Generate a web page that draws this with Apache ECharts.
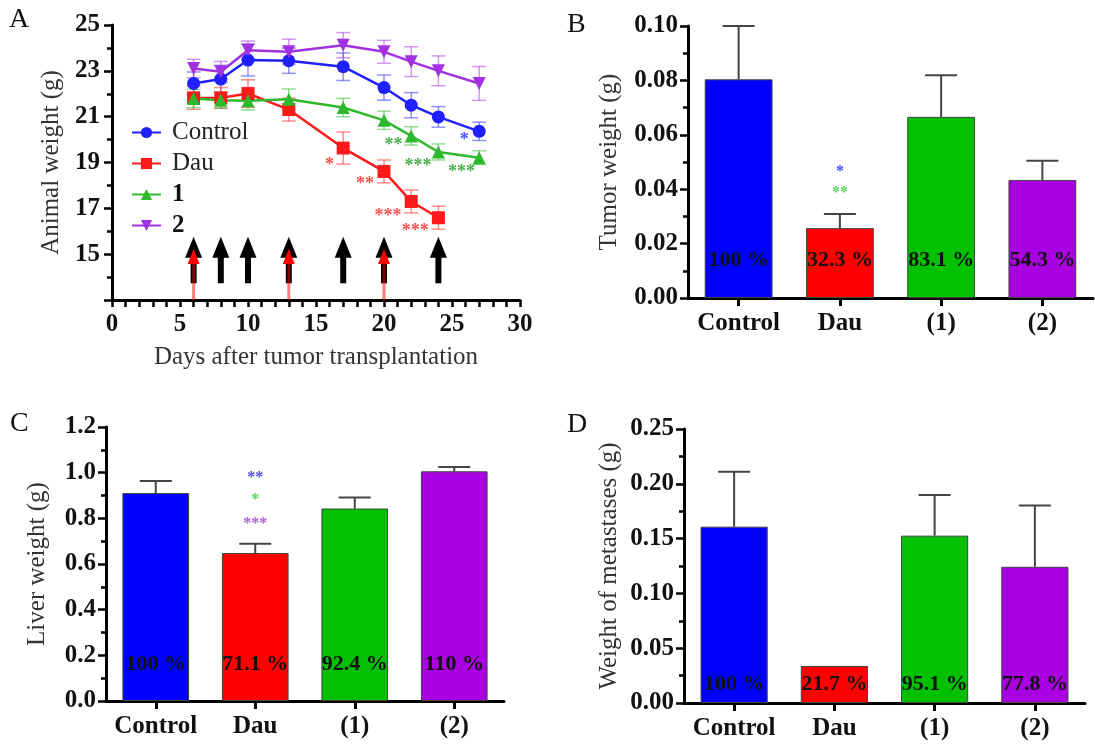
<!DOCTYPE html>
<html>
<head>
<meta charset="utf-8">
<script src="https://cdn.jsdelivr.net/npm/echarts@6/dist/echarts.min.js"></script>
<style>
html, body { margin: 0; padding: 0; background: #fff; }
#chart { width: 1095px; height: 745px; }
</style>
</head>
<body>
<div id="chart"></div>
<script>
// panel A: body weight over time
const days = [6, 8, 10, 13, 17, 20, 22, 24, 27]
const dauDays = [6, 8, 10, 13, 17, 20, 22, 24]
const controlW = [22.45, 22.64, 23.47, 23.44, 23.18, 22.27, 21.5, 20.99, 20.36]
const controlE = [0.5, 0.6, 0.7, 0.55, 0.6, 0.55, 0.55, 0.45, 0.4]
const dauW = [21.82, 21.82, 22.01, 21.31, 19.63, 18.61, 17.3, 16.59]
const dauE = [0.5, 0.45, 0.6, 0.5, 0.7, 0.5, 0.5, 0.5]
const c1W = [21.79, 21.72, 21.69, 21.76, 21.4, 20.84, 20.16, 19.46, 19.21]
const c1E = [0.4, 0.35, 0.4, 0.45, 0.4, 0.4, 0.4, 0.35, 0.3]
const c2W = [23.1, 22.96, 23.9, 23.83, 24.12, 23.83, 23.4, 23.0, 22.45]
const c2E = [0.4, 0.45, 0.4, 0.55, 0.55, 0.5, 0.65, 0.65, 0.74]
const blackArrowDays = [6, 8, 10, 13, 17, 20, 24]
const redArrowDays = [6, 13, 20]
// [day, weight, text, color]
const starsA = [
  [16.0, 18.88, '*', '#ff2020'],
  [18.6, 18.04, '**', '#ff2020'],
  [20.3, 16.64, '***', '#ff2020'],
  [22.3, 15.99, '***', '#ff2020'],
  [20.7, 19.75, '**', '#1a9a1a'],
  [22.5, 18.83, '***', '#1a9a1a'],
  [25.7, 18.57, '***', '#1a9a1a'],
  [25.9, 19.97, '*', '#2020ff']
]

// panels B-D
const groups = ['Control', 'Dau', '(1)', '(2)']
const barColors = ['#0000ff', '#ff0000', '#00c000', '#a800e0']
const tumorW = [0.0804, 0.0257, 0.0666, 0.0434]
const tumorE = [0.0196, 0.0052, 0.0153, 0.0071]
const tumorPct = ['100 %', '32.3 %', '83.1 %', '54.3 %']
const liverW = [0.911, 0.648, 0.843, 1.006]
const liverE = [0.053, 0.041, 0.048, 0.019]
const liverPct = ['100 %', '71.1 %', '92.4 %', '110 %']
const metaW = [0.1609, 0.0338, 0.1527, 0.1243]
const metaE = [0.050, 0, 0.037, 0.056]
const metaPct = ['100 %', '21.7 %', '95.1 %', '77.8 %']
// [group index, value, text, color]
const starsB = [[1, 0.0463, '*', '#2020ff'], [1, 0.0386, '**', '#33cc33']]
const starsC = [[1, 0.977, '**', '#2020ff'], [1, 0.882, '*', '#33cc33'], [1, 0.777, '***', '#9933cc']]

const serif = 'Liberation Serif'
const chart = echarts.init(document.getElementById('chart'))

function pairs(xs, ys) { return xs.map((x, i) => [x, ys[i]]) }
function errData(xs, ys, es) { return xs.map((x, i) => [x, ys[i] - es[i], ys[i] + es[i]]) }

function errSeriesA(xs, ys, es, color) {
  return {
    type: 'custom', xAxisIndex: 0, yAxisIndex: 0, z: 1, silent: true,
    data: errData(xs, ys, es),
    encode: { x: 0, y: [1, 2] },
    renderItem: (params, api) => {
      const lo = api.coord([api.value(0), api.value(1)])
      const hi = api.coord([api.value(0), api.value(2)])
      const st = { stroke: color, lineWidth: 1.5 }
      return { type: 'group', children: [
        { type: 'line', shape: { x1: lo[0], y1: lo[1], x2: hi[0], y2: hi[1] }, style: st },
        { type: 'line', shape: { x1: lo[0] - 7, y1: lo[1], x2: lo[0] + 7, y2: lo[1] }, style: st },
        { type: 'line', shape: { x1: hi[0] - 7, y1: hi[1], x2: hi[0] + 7, y2: hi[1] }, style: st }
      ] }
    }
  }
}

function lineSeries(name, xs, ys, color, symbol) {
  return {
    name, type: 'line', xAxisIndex: 0, yAxisIndex: 0, z: 3,
    data: pairs(xs, ys), symbol, symbolSize: 13,
    lineStyle: { color, width: 2.5 }, itemStyle: { color }
  }
}

function arrowSeries(list, black) {
  return {
    type: 'custom', xAxisIndex: 0, yAxisIndex: 0, z: black ? 4 : 5, silent: true,
    data: list.map(d => [d]),
    renderItem: (params, api) => {
      const d = api.value(0)
      if (black) {
        const base = api.coord([d, 13.73]), tip = api.coord([d, 15.76])
        return { type: 'group', children: [
          { type: 'rect', shape: { x: base[0] - 3, y: tip[1] + 19, width: 6, height: base[1] - tip[1] - 19 }, style: { fill: '#000' } },
          { type: 'polygon', shape: { points: [[tip[0], tip[1]], [tip[0] - 8.5, tip[1] + 21], [tip[0] + 8.5, tip[1] + 21]] }, style: { fill: '#000' } }
        ] }
      }
      const base = api.coord([d, 13]), tip = api.coord([d, 15.23])
      return { type: 'group', children: [
        { type: 'rect', shape: { x: base[0] - 1.5, y: tip[1] + 13, width: 3, height: base[1] - tip[1] - 13 }, style: { fill: 'rgba(255,0,0,0.5)' } },
        { type: 'polygon', shape: { points: [[tip[0], tip[1]], [tip[0] - 6, tip[1] + 15], [tip[0] + 6, tip[1] + 15]] }, style: { fill: '#ff0000' } }
      ] }
    }
  }
}

function starSeries(list, axis, size) {
  return {
    type: 'scatter', xAxisIndex: axis, yAxisIndex: axis, symbolSize: 0, z: 6, silent: true,
    data: list.map(s => ({
      value: [s[0], s[1]],
      label: { show: true, position: 'inside', formatter: s[2], color: s[3], fontSize: size, fontFamily: serif, fontWeight: 'bold' }
    }))
  }
}

function barSeries(axis, vals, pct, dist) {
  return {
    type: 'bar', xAxisIndex: axis, yAxisIndex: axis, barWidth: '67%', z: 3,
    data: vals.map((v, i) => ({ value: v, itemStyle: { color: barColors[i], borderColor: '#444', borderWidth: 1 } })),
    label: {
      show: true, position: 'insideBottom', distance: dist,
      formatter: p => pct[p.dataIndex],
      fontFamily: serif, fontWeight: 'bold', fontSize: 22, color: '#111'
    }
  }
}

function barErrSeries(axis, vals, errs) {
  return {
    type: 'custom', xAxisIndex: axis, yAxisIndex: axis, z: 2, silent: true,
    data: vals.map((v, i) => [i, v, v + errs[i]]),
    encode: { x: 0, y: [1, 2] },
    renderItem: (params, api) => {
      if (api.value(2) <= api.value(1)) return
      const lo = api.coord([api.value(0), api.value(1)])
      const hi = api.coord([api.value(0), api.value(2)])
      const st = { stroke: '#444', lineWidth: 2 }
      return { type: 'group', children: [
        { type: 'line', shape: { x1: lo[0], y1: lo[1], x2: hi[0], y2: hi[1] }, style: st },
        { type: 'line', shape: { x1: hi[0] - 16, y1: hi[1], x2: hi[0] + 16, y2: hi[1] }, style: st }
      ] }
    }
  }
}

const axisLine = { show: true, lineStyle: { color: '#000', width: 3 } }
const tickLabel = { fontFamily: serif, fontWeight: 'bold', fontSize: 25, color: '#111' }
const nameStyle = { fontFamily: serif, fontSize: 25, color: '#333' }

function catAxis(i) {
  return {
    type: 'category', gridIndex: i, data: groups,
    axisLine, axisTick: { show: true, alignWithLabel: true, length: 8, lineStyle: { width: 3, color: '#000' } },
    axisLabel: Object.assign({ margin: 13, interval: 0 }, tickLabel)
  }
}

function valAxis(i, min, max, step, digits, name, gap) {
  return {
    type: 'value', gridIndex: i, min, max, interval: step,
    axisLine, splitLine: { show: false },
    axisTick: { show: true, length: 8, lineStyle: { width: 2.5, color: '#000' } },
    minorTick: { show: true, splitNumber: 2, length: 5, lineStyle: { width: 2.5, color: '#000' } },
    axisLabel: Object.assign({ margin: 10, formatter: v => v.toFixed(digits) }, tickLabel),
    name, nameLocation: 'middle', nameGap: gap, nameTextStyle: nameStyle
  }
}

const option = {
  animation: false,
  backgroundColor: '#fff',
  grid: [
    { left: 112, top: 25, width: 408, height: 275 },
    { left: 688, top: 26, width: 405, height: 272 },
    { left: 106, top: 427, width: 398, height: 274 },
    { left: 684, top: 429, width: 401, height: 274 }
  ],
  legend: {
    data: ['Control', 'Dau', '1', '2'],
    orient: 'vertical', left: 126, top: 115,
    itemWidth: 29, itemHeight: 14, itemGap: 6,
    textStyle: { fontFamily: serif, fontSize: 25, color: '#222', lineHeight: 25, padding: [0, 0, 0, 6],
      rich: { b: { fontFamily: serif, fontSize: 25, fontWeight: 'bold', color: '#111' } } },
    formatter: n => (n === '1' || n === '2') ? '{b|' + n + '}' : n
  },
  xAxis: [
    {
      type: 'value', gridIndex: 0, min: 0, max: 30, interval: 5,
      axisLine, splitLine: { show: false },
      axisTick: { show: true, length: 7, lineStyle: { width: 2.5, color: '#000' } },
      minorTick: { show: true, splitNumber: 5, length: 7, lineStyle: { width: 2.5, color: '#000' } },
      axisLabel: Object.assign({ margin: 12 }, tickLabel),
      name: 'Days after tumor transplantation', nameLocation: 'middle', nameGap: 45, nameTextStyle: nameStyle
    },
    catAxis(1), catAxis(2), catAxis(3)
  ],
  yAxis: [
    {
      type: 'value', gridIndex: 0, min: 13, max: 25, interval: 2,
      axisLine, splitLine: { show: false },
      axisTick: { show: true, length: 8, lineStyle: { width: 2.5, color: '#000' } },
      minorTick: { show: true, splitNumber: 2, length: 5, lineStyle: { width: 2.5, color: '#000' } },
      axisLabel: Object.assign({ margin: 12, formatter: v => v === 13 ? '' : v }, tickLabel),
      name: 'Animal weight (g)', nameLocation: 'middle', nameGap: 48, nameTextStyle: nameStyle
    },
    valAxis(1, 0, 0.1, 0.02, 2, 'Tumor weight (g)', 66),
    valAxis(2, 0, 1.2, 0.2, 1, 'Liver weight (g)', 56),
    valAxis(3, 0, 0.25, 0.05, 2, 'Weight of metastases (g)', 62)
  ],
  graphic: [
    { type: 'text', left: 9, top: 6, style: { text: 'A', font: '28px "Liberation Serif"', fill: '#111' } },
    { type: 'text', left: 567, top: 11, style: { text: 'B', font: '28px "Liberation Serif"', fill: '#111' } },
    { type: 'text', left: 10, top: 410, style: { text: 'C', font: '28px "Liberation Serif"', fill: '#111' } },
    { type: 'text', left: 567, top: 411, style: { text: 'D', font: '28px "Liberation Serif"', fill: '#111' } }
  ],
  series: [
    arrowSeries(blackArrowDays, true),
    arrowSeries(redArrowDays, false),
    errSeriesA(days, controlW, controlE, 'rgba(40,40,255,0.5)'),
    errSeriesA(dauDays, dauW, dauE, 'rgba(255,30,30,0.5)'),
    errSeriesA(days, c1W, c1E, 'rgba(40,190,40,0.5)'),
    errSeriesA(days, c2W, c2E, 'rgba(170,50,230,0.5)'),
    lineSeries('Control', days, controlW, '#1f1fff', 'circle'),
    lineSeries('Dau', dauDays, dauW, '#ff1a1a', 'rect'),
    lineSeries('1', days, c1W, '#2db82d', 'triangle'),
    lineSeries('2', days, c2W, '#a030e0', 'path://M0,0 L10,0 L5,9 Z'),
    starSeries(starsA, 0, 18),
    barErrSeries(1, tumorW, tumorE),
    barSeries(1, tumorW, tumorPct, 27),
    starSeries(starsB, 1, 16),
    barErrSeries(2, liverW, liverE),
    barSeries(2, liverW, liverPct, 26),
    starSeries(starsC, 2, 16),
    barErrSeries(3, metaW, metaE),
    barSeries(3, metaW, metaPct, 8)
  ]
}

chart.setOption(option)
</script>
</body>
</html>
